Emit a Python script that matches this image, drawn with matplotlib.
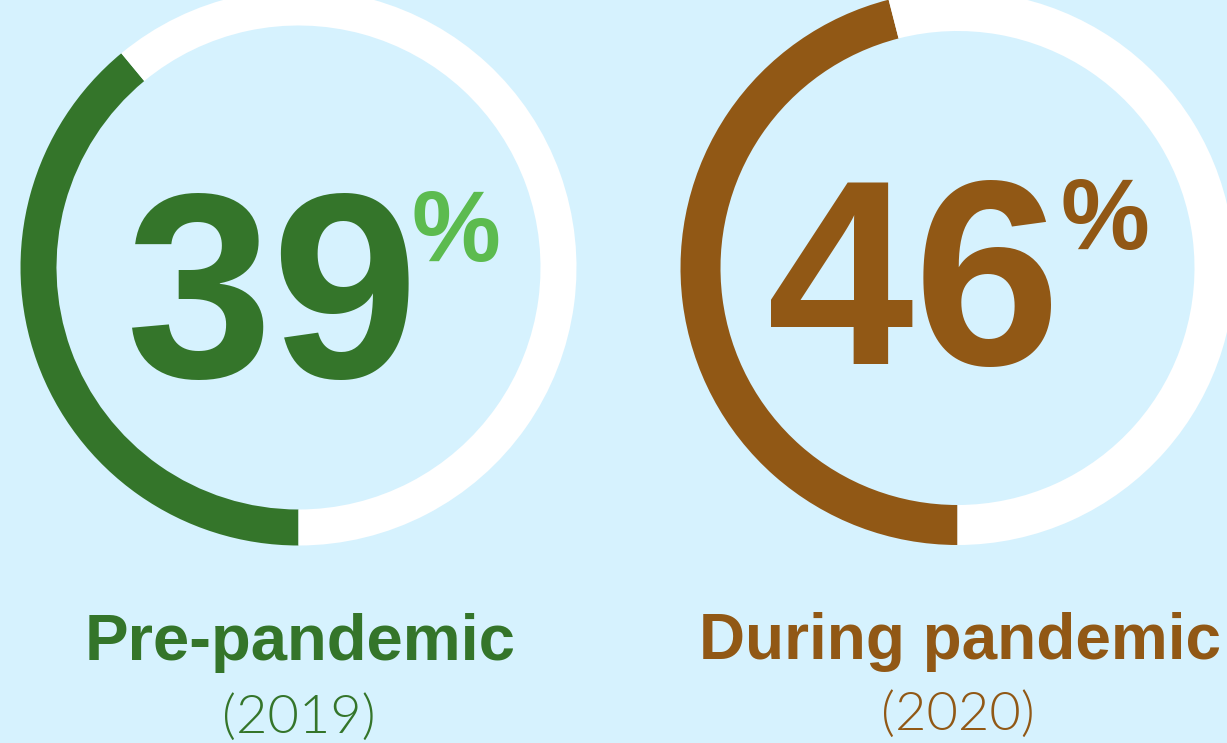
import matplotlib
matplotlib.use("Agg")
import matplotlib.pyplot as plt
from matplotlib.patches import Wedge

# ---- data ----
labels = ["Pre-pandemic", "During pandemic"]
years = ["(2019)", "(2020)"]
values = [39, 46]  # percent
main_colors = ["#34752a", "#915815"]
pct_colors = ["#5cbb4f", "#915815"]

BG = "#d6f2fe"
W, H = 1227, 743
DPI = 100

fig = plt.figure(figsize=(W / DPI, H / DPI), dpi=DPI, facecolor=BG)
ax = fig.add_axes([0, 0, 1, 1])
ax.set_xlim(0, W)
ax.set_ylim(0, H)
ax.set_aspect("equal")
ax.axis("off")
ax.set_facecolor(BG)

# layout (pixel coordinates, y measured from top)
centers = [(298.5, 267.5), (957.5, 268.0)]
radii = [278, 277]
widths = [36, 40]
num_x = [273, 913.5]
num_base = [377, 364]
pct_x = [455.5, 1104.5]
pct_base = [261, 249]
lab_x = [300.5, 960]
lab_base = [660, 659]
lab_size = [47, 46]
yr_x = [298.5, 958]
yr_base = [733, 730]

def py(y):
    return H - y

bold = ["Liberation Sans", "DejaVu Sans"]
light = ["Lato", "Liberation Sans", "DejaVu Sans"]

for i in range(2):
    cx, cy = centers[i]
    frac = values[i] / 100.0
    start = 270 - 360 * frac
    ax.add_patch(Wedge((cx, py(cy)), radii[i], start, 270,
                       width=widths[i], facecolor=main_colors[i],
                       edgecolor="none", antialiased=True))
    ax.add_patch(Wedge((cx, py(cy)), radii[i], 270, start + 360,
                       width=widths[i], facecolor="white",
                       edgecolor="none", antialiased=True))

    ax.text(num_x[i], py(num_base[i]), str(values[i]), ha="center",
            va="baseline", fontsize=190, fontweight="bold",
            family=bold, color=main_colors[i])
    ax.text(pct_x[i], py(pct_base[i]), "%", ha="center", va="baseline",
            fontsize=72, fontweight="bold", family=bold, color=pct_colors[i])
    ax.text(lab_x[i], py(lab_base[i]), labels[i], ha="center",
            va="baseline", fontsize=lab_size[i], fontweight="bold",
            family=bold, color=main_colors[i])
    ax.text(yr_x[i], py(yr_base[i]), years[i], ha="center", va="baseline",
            fontsize=39, fontweight=300, family=light, color=main_colors[i])

fig.savefig("out.png", dpi=DPI, facecolor=BG)
